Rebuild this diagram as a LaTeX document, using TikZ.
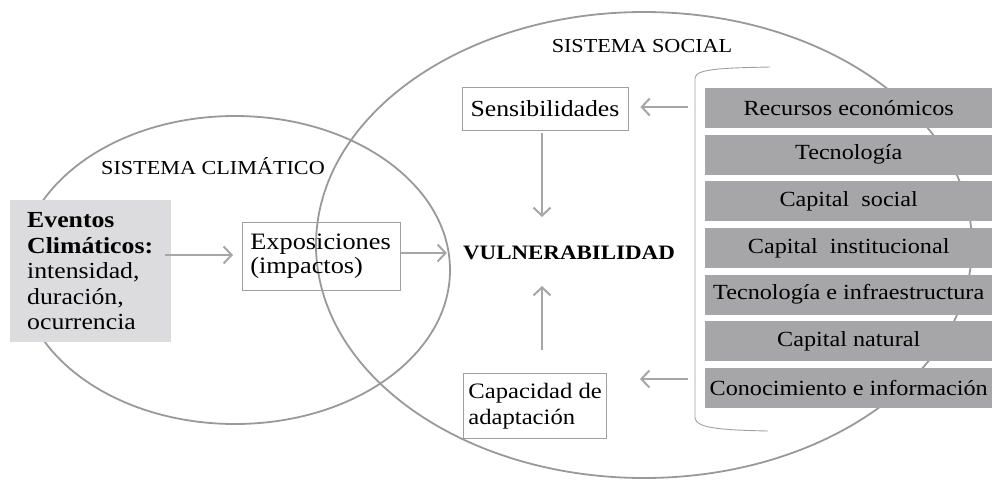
\documentclass[tikz,border=0pt]{standalone}
\usepackage{fontspec}
\setmainfont[FakeStretch=1.12]{Liberation Serif}
\usetikzlibrary{arrows.meta}
\definecolor{ellc}{HTML}{999999}
\definecolor{arrc}{HTML}{A6A6A6}
\definecolor{boxc}{HTML}{A0A0A0}
\definecolor{evfill}{HTML}{DCDCDE}
\definecolor{capfill}{HTML}{A6A6A8}
\tikzset{
  ell/.style={draw=ellc, line width=1.8pt},
  arr/.style={draw=arrc, line width=2.2pt, -{Straight Barb[length=8pt,width=17pt,line width=2pt]}},
  wbox/.style={draw=boxc, line width=0.8pt, inner sep=0pt, font=\fontsize{23}{26}\selectfont},
  gbox/.style={fill=capfill, inner sep=0pt, minimum width=287pt, minimum height=40pt, anchor=west, font=\fontsize{21.6}{26}\selectfont},
  ttl/.style={font=\fontsize{19.8}{24}\selectfont, inner sep=0pt},
}
\begin{document}
\begin{tikzpicture}[x=1pt,y=-1pt]
\useasboundingbox (0,0) rectangle (993,480);
% ellipses
\draw[ell] (235,270) ellipse [x radius=215, y radius=154];
\draw[ell] (644,245) ellipse [x radius=328, y radius=233];
% titles
\node[ttl] (tclim) at (213,166) {SISTEMA CLIMÁTICO};
\node[ttl] (tsoc) at (642,46) {SISTEMA SOCIAL};
% eventos box
\node[fill=evfill, anchor=north west, minimum width=161pt, minimum height=142pt, inner xsep=17pt, inner ysep=0pt,
      text width=127pt, align=left, font=\fontsize{23}{25.5}\selectfont] (ev) at (10,200)
  {\textbf{Eventos}\\\textbf{Climáticos:}\\intensidad,\\duración,\\ocurrencia};
% exposiciones
\node[wbox, anchor=north west, minimum width=158pt, minimum height=68pt, inner xsep=8pt, text width=142pt, align=left,
      font=\fontsize{23.5}{24}\selectfont] (ex) at (242,222) {Exposiciones\\(impactos)};
% vulnerabilidad
\node[font=\fontsize{20.5}{24}\selectfont\bfseries, inner sep=0pt] (vul) at (569,253) {VULNERABILIDAD};
% sensibilidades
\node[wbox, fill=white, minimum width=166pt, minimum height=43pt] (sen) at (545,108.5) {Sensibilidades};
% capacidad
\node[wbox, fill=white, anchor=north west, minimum width=142pt, minimum height=65pt, inner xsep=5pt, align=left,
      font=\fontsize{22}{26}\selectfont] (cap) at (463,373) {Capacidad de\\adaptación};
% bracket
\draw[draw=boxc, line width=0.9pt] (770,67) .. controls (720,68) and (696,69) .. (695,78) -- (695,418)
  .. controls (696,428) and (720,430) .. (768,431);
% gray boxes
\node[gbox] (g1) at (705,108) {Recursos económicos};
\node[gbox] (g2) at (705,154.7) {Tecnología};
\node[gbox] (g3) at (705,201.3) {Capital\ \ social};
\node[gbox] (g4) at (705,248) {Capital\ \ institucional};
\node[gbox] (g5) at (705,294.7) {Tecnología e infraestructura};
\node[gbox] (g6) at (705,341.3) {Capital natural};
\node[gbox] (g7) at (705,388) {Conocimiento e información};
% connector coordinates
\coordinate (brs) at (688,107);
\coordinate (brc) at (688,379);
\coordinate (vt) at (542,217);
\coordinate (vb) at (542,286);
\coordinate (cs) at (542,350);
% arrows
\draw[arr] ([xshift=-6pt]ev.east |- 0,255) -- ([xshift=-9pt]ex.west |- 0,255);
\draw[arr] (ex.east |- 0,253) -- ([xshift=-16pt]vul.west);
\draw[arr] (sen.south -| vt) ++(0,3) -- (vt);
\draw[arr] (cs) -- (vb);
\draw[arr] (brs) -- ([xshift=12pt]sen.east |- brs);
\draw[arr] (brc) -- (640,379);
\end{tikzpicture}
\end{document}
